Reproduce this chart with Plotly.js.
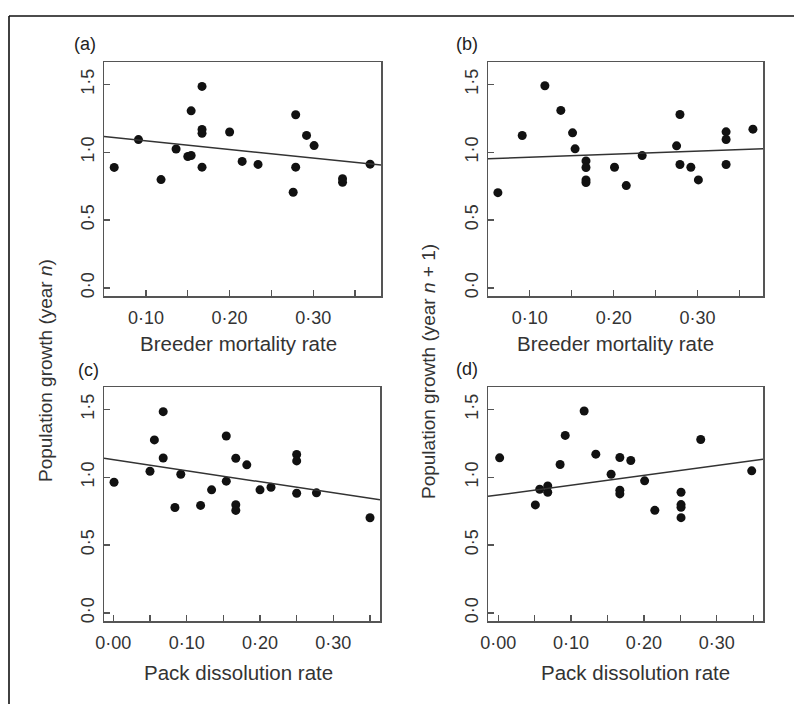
<!DOCTYPE html>
<html>
<head>
<meta charset="utf-8">
<script src="https://cdn.plot.ly/plotly-3.0.1.min.js"></script>
<style>html,body{margin:0;padding:0;background:#fff;}#chart{width:794px;height:704px;}</style>
</head>
<body>
<div id="chart"></div>
<script>
// ---- data ----
// (a) breeder mortality vs population growth (year n)
var aX = [0.062, 0.091, 0.118, 0.136, 0.150, 0.154, 0.154, 0.167, 0.167, 0.167, 0.167, 0.200, 0.215, 0.234, 0.276, 0.279, 0.279, 0.292, 0.301, 0.335, 0.335, 0.368];
var aY = [0.888, 1.093, 0.798, 1.024, 0.968, 0.976, 1.305, 1.485, 1.168, 1.139, 0.890, 1.149, 0.932, 0.910, 0.705, 1.276, 0.890, 1.124, 1.049, 0.805, 0.778, 0.912];
// (b) breeder mortality vs population growth (year n + 1)
var bX = [0.062, 0.091, 0.118, 0.137, 0.151, 0.154, 0.167, 0.167, 0.167, 0.167, 0.201, 0.215, 0.234, 0.275, 0.279, 0.279, 0.292, 0.301, 0.334, 0.334, 0.334, 0.366];
var bY = [0.702, 1.123, 1.490, 1.308, 1.143, 1.025, 0.936, 0.887, 0.796, 0.776, 0.889, 0.754, 0.975, 1.047, 1.278, 0.909, 0.889, 0.796, 1.150, 1.094, 0.909, 1.170];
// (c) pack dissolution vs population growth (year n)
var cX = [0.001, 0.050, 0.056, 0.068, 0.068, 0.084, 0.092, 0.119, 0.134, 0.154, 0.154, 0.167, 0.167, 0.167, 0.182, 0.200, 0.215, 0.250, 0.250, 0.250, 0.277, 0.350];
var cY = [0.963, 1.044, 1.275, 1.483, 1.142, 0.777, 1.022, 0.792, 0.907, 1.304, 0.971, 1.140, 0.797, 0.755, 1.091, 0.907, 0.926, 1.167, 1.120, 0.882, 0.885, 0.701];
// (d) pack dissolution vs population growth (year n + 1)
var dX = [0.002, 0.051, 0.057, 0.068, 0.068, 0.085, 0.092, 0.118, 0.134, 0.155, 0.167, 0.167, 0.167, 0.182, 0.201, 0.215, 0.251, 0.251, 0.251, 0.251, 0.278, 0.348];
var dY = [1.143, 0.796, 0.911, 0.936, 0.889, 1.094, 1.308, 1.488, 1.170, 1.022, 1.145, 0.904, 0.877, 1.123, 0.973, 0.756, 0.889, 0.798, 0.778, 0.702, 1.278, 1.047];
// fitted regression lines (intercept, slope)
var fitIntercept = [1.147, 0.940, 1.130, 0.869];
var fitSlope = [-0.634, 0.226, -0.817, 0.723];
// labels
var panelLabels = ['(a)', '(b)', '(c)', '(d)'];
var xTitles = ['Breeder mortality rate', 'Breeder mortality rate', 'Pack dissolution rate', 'Pack dissolution rate'];
var yTitles = ['Population growth (year <i>n</i>)', 'Population growth (year <i>n</i> + 1)'];
var xTickValsTop = [0.10, 0.15, 0.20, 0.25, 0.30, 0.35];
var xTickTextTop = ['0·10', '', '0·20', '', '0·30', ''];
var xTickValsBot = [0.00, 0.05, 0.10, 0.15, 0.20, 0.25, 0.30, 0.35];
var xTickTextBot = ['0·00', '', '0·10', '', '0·20', '', '0·30', ''];
var yTickVals = [0, 0.5, 1.0, 1.5];
var yTickText = ['0·0', '0·5', '1·0', '1·5'];

// ---- layout helpers (pixel -> paper) ----
var W = 794, H = 704;
function px(x) { return x / W; }
function py(y) { return 1 - y / H; }

var boxes = [
  {x0: 104, x1: 381, y0: 62, y1: 296},
  {x0: 488, x1: 763, y0: 62, y1: 296},
  {x0: 104, x1: 380, y0: 387, y1: 621},
  {x0: 488, x1: 763, y0: 387, y1: 621}
];
var xRanges = [[0.0498, 0.381], [0.0502, 0.378], [-0.0127, 0.3636], [-0.014, 0.3635]];
var yRange = [-0.06, 1.665];
var xs = [aX, bX, cX, dX], ys = [aY, bY, cY, dY];

var FONT = 'Liberation Sans, Arial, sans-serif';
var TICKFONT = 'Liberation Sans Narrow, Arial Narrow, Liberation Sans, sans-serif';
var TXT = '#333';
var LINEC = '#555';

var traces = [], layout = {
  width: W, height: H, margin: {l: 0, r: 0, t: 0, b: 0},
  paper_bgcolor: '#fff', plot_bgcolor: '#fff', showlegend: false,
  font: {family: FONT, color: TXT},
  annotations: [], shapes: []
};

for (var i = 0; i < 4; i++) {
  var sfx = i === 0 ? '' : String(i + 1);
  var xa = 'x' + sfx, ya = 'y' + sfx;
  traces.push({
    type: 'scatter', mode: 'markers', x: xs[i], y: ys[i], xaxis: xa, yaxis: ya,
    marker: {color: '#111', size: 9}, cliponaxis: false, hoverinfo: 'skip'
  });
  var r = xRanges[i];
  traces.push({
    type: 'scatter', mode: 'lines', xaxis: xa, yaxis: ya,
    x: [r[0], r[1]],
    y: [fitIntercept[i] + fitSlope[i] * r[0], fitIntercept[i] + fitSlope[i] * r[1]],
    line: {color: '#333', width: 1.5}, hoverinfo: 'skip'
  });
  var b = boxes[i];
  var isTopRow = i < 2;
  layout['xaxis' + sfx] = {
    domain: [px(b.x0), px(b.x1)], anchor: ya, range: r,
    tickmode: 'array', tickvals: isTopRow ? xTickValsTop : xTickValsBot,
    ticktext: isTopRow ? xTickTextTop : xTickTextBot,
    ticks: 'inside', ticklen: 6, tickwidth: 1.3, tickcolor: LINEC,
    showline: true, mirror: true, linecolor: LINEC, linewidth: 1.5,
    showgrid: false, zeroline: false,
    tickfont: {family: TICKFONT, size: 18, color: TXT}, ticklabelstandoff: 5
  };
  layout['yaxis' + sfx] = {
    domain: [py(b.y1), py(b.y0)], anchor: xa, range: yRange,
    tickmode: 'array', tickvals: yTickVals, ticktext: yTickText, tickangle: -90,
    ticks: 'inside', ticklen: 6, tickwidth: 1.3, tickcolor: LINEC,
    showline: true, mirror: true, linecolor: LINEC, linewidth: 1.5,
    showgrid: false, zeroline: false,
    tickfont: {family: TICKFONT, size: 18, color: TXT}, ticklabelstandoff: 1
  };
}

var labelPos = [[85, 44], [467, 44], [88, 370], [467, 369]];
var xTitlePos = [[238, 343], [615, 343], [238, 672], [635, 672]];
for (var k = 0; k < 4; k++) {
  layout.annotations.push({
    text: panelLabels[k], xref: 'paper', yref: 'paper',
    x: px(labelPos[k][0]), y: py(labelPos[k][1]), xanchor: 'center', yanchor: 'middle',
    showarrow: false, font: {family: FONT, size: 18, color: '#222'}
  });
  layout.annotations.push({
    text: xTitles[k], xref: 'paper', yref: 'paper',
    x: px(xTitlePos[k][0]), y: py(xTitlePos[k][1]), xanchor: 'center', yanchor: 'middle',
    showarrow: false, font: {family: FONT, size: 20.5, color: TXT}
  });
}
var yTitlePos = [[45, 371], [428, 372]];
for (var m = 0; m < 2; m++) {
  layout.annotations.push({
    text: yTitles[m], xref: 'paper', yref: 'paper', textangle: -90,
    x: px(yTitlePos[m][0]), y: py(yTitlePos[m][1]), xanchor: 'center', yanchor: 'middle',
    showarrow: false, font: {family: FONT, size: 19, color: TXT}
  });
}
// outer figure frame (top and left edges visible)
layout.shapes.push({type: 'line', xref: 'paper', yref: 'paper', x0: px(9), x1: 1.02, y0: py(16), y1: py(16), line: {color: '#111', width: 1.6}});
layout.shapes.push({type: 'line', xref: 'paper', yref: 'paper', x0: px(9), x1: px(9), y0: py(16), y1: -0.02, line: {color: '#111', width: 1.6}});

Plotly.newPlot('chart', traces, layout, {staticPlot: true, displayModeBar: false});
</script>
</body>
</html>
